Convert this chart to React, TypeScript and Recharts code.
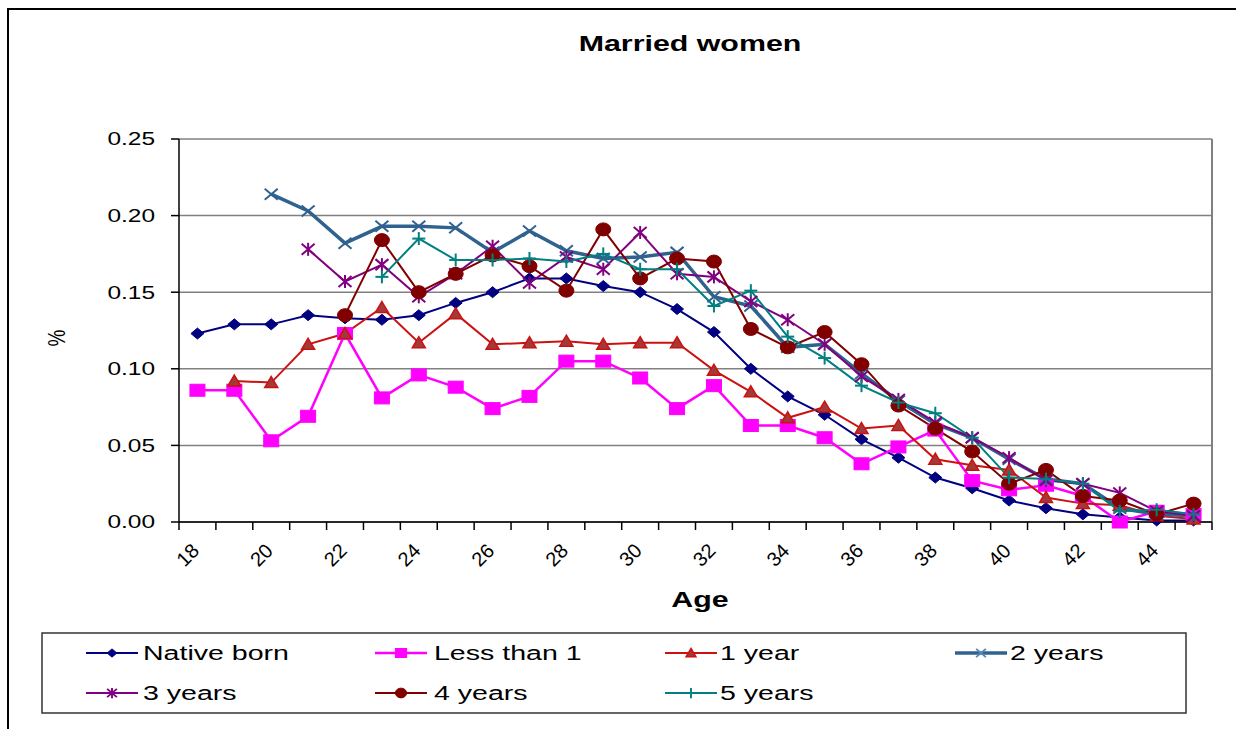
import React from "react";
import { LineChart, Line, XAxis, YAxis, CartesianGrid, ReferenceLine } from "recharts";

const ages = [18, 19, 20, 21, 22, 23, 24, 25, 26, 27, 28, 29, 30, 31, 32, 33, 34, 35, 36, 37, 38, 39, 40, 41, 42, 43, 44, 45];

const nativeBorn = [0.123, 0.129, 0.129, 0.135, 0.133, 0.132, 0.135, 0.143, 0.150, 0.159, 0.159, 0.154, 0.150, 0.139, 0.124, 0.100, 0.082, 0.070, 0.054, 0.042, 0.029, 0.022, 0.014, 0.009, 0.005, 0.003, 0.001, 0.001];
const lessThan1 = [0.086, 0.086, 0.053, 0.069, 0.123, 0.081, 0.096, 0.088, 0.074, 0.082, 0.105, 0.105, 0.094, 0.074, 0.089, 0.063, 0.063, 0.055, 0.038, 0.049, 0.060, 0.027, 0.021, 0.024, 0.017, 0.000, 0.007, 0.005];
const oneYear = [null, 0.092, 0.091, 0.116, 0.123, 0.140, 0.117, 0.136, 0.116, 0.117, 0.118, 0.116, 0.117, 0.117, 0.099, 0.085, 0.068, 0.075, 0.061, 0.063, 0.041, 0.037, 0.034, 0.016, 0.012, 0.011, 0.004, 0.002];
const twoYears = [null, null, 0.214, 0.203, 0.182, 0.193, 0.193, 0.192, 0.176, 0.190, 0.177, 0.172, 0.173, 0.176, 0.147, 0.141, 0.114, 0.116, 0.097, 0.079, 0.064, 0.055, 0.041, 0.028, 0.025, 0.009, 0.005, 0.004];
const threeYears = [null, null, null, 0.178, 0.157, 0.168, 0.147, 0.162, 0.180, 0.156, 0.173, 0.165, 0.189, 0.162, 0.160, 0.144, 0.132, 0.116, 0.095, 0.080, 0.065, 0.055, 0.042, 0.027, 0.025, 0.019, 0.007, 0.004];
const fourYears = [null, null, null, null, 0.135, 0.184, 0.150, 0.162, 0.174, 0.167, 0.151, 0.191, 0.159, 0.172, 0.170, 0.126, 0.114, 0.124, 0.103, 0.076, 0.061, 0.046, 0.025, 0.034, 0.017, 0.014, 0.005, 0.012];
const fiveYears = [null, null, null, null, null, 0.160, 0.185, 0.171, 0.171, 0.172, 0.170, 0.175, 0.165, 0.165, 0.141, 0.151, 0.121, 0.107, 0.089, 0.078, 0.071, 0.055, 0.029, 0.028, 0.025, 0.007, 0.008, 0.005];

const yTicks = [0, 0.05, 0.1, 0.15, 0.2, 0.25];
const xLabelAges = [18, 20, 22, 24, 26, 28, 30, 32, 34, 36, 38, 40, 42, 44];
const seriesNames = ["Native born", "Less than 1", "1 year", "2 years", "3 years", "4 years", "5 years"];

const data = ages.map((age, i) => ({
  age,
  nativeBorn: nativeBorn[i],
  lessThan1: lessThan1[i],
  oneYear: oneYear[i],
  twoYears: twoYears[i],
  threeYears: threeYears[i],
  fourYears: fourYears[i],
  fiveYears: fiveYears[i],
}));

// x ticks: boundaries (x.5) for tick marks, integers for labels
const xTicks: number[] = [];
for (let i = 0; i < ages.length; i++) {
  xTicks.push(ages[i] - 0.5);
  xTicks.push(ages[i]);
}
xTicks.push(ages[ages.length - 1] + 0.5);

const FONT = '"Liberation Sans", Arial, sans-serif';
const SX = 1.36;

type Shape = "diamond" | "square" | "triangle" | "x" | "star" | "circle" | "plus";

function Marker({ shape, cx, cy, s, color, fill }: { shape: Shape; cx: number; cy: number; s: number; color: string; fill?: string }) {
  const rx = 6.5 * s;
  const ry = 5.5 * s;
  switch (shape) {
    case "diamond":
      return <path d={`M${cx},${cy - ry}L${cx + rx},${cy}L${cx},${cy + ry}L${cx - rx},${cy}Z`} fill={color} stroke={color} strokeWidth={1} />;
    case "square":
      return <rect x={cx - 7.5 * s} y={cy - 6 * s} width={15 * s} height={12 * s} fill={color} stroke={color} strokeWidth={1} />;
    case "triangle":
      return <path d={`M${cx},${cy - 6 * s}L${cx + 6.5 * s},${cy + 5 * s}L${cx - 6.5 * s},${cy + 5 * s}Z`} fill={fill || color} stroke={color} strokeWidth={1.5} />;
    case "x":
      return (
        <g stroke={color} strokeWidth={2 * Math.min(1, s + 0.2)}>
          <line x1={cx - rx} y1={cy - ry} x2={cx + rx} y2={cy + ry} />
          <line x1={cx - rx} y1={cy + ry} x2={cx + rx} y2={cy - ry} />
        </g>
      );
    case "star":
      return (
        <g stroke={color} strokeWidth={2 * Math.min(1, s + 0.2)}>
          <line x1={cx - rx} y1={cy - ry} x2={cx + rx} y2={cy + ry} />
          <line x1={cx - rx} y1={cy + ry} x2={cx + rx} y2={cy - ry} />
          <line x1={cx} y1={cy - ry - 1} x2={cx} y2={cy + ry + 1} />
        </g>
      );
    case "circle":
      return <ellipse cx={cx} cy={cy} rx={7.5 * s} ry={6.5 * s} fill={color} stroke={color} strokeWidth={1} />;
    case "plus":
      return (
        <g stroke={color} strokeWidth={2 * Math.min(1, s + 0.2)}>
          <line x1={cx - rx} y1={cy} x2={cx + rx} y2={cy} />
          <line x1={cx} y1={cy - ry - 1} x2={cx} y2={cy + ry + 1} />
        </g>
      );
  }
  return null;
}

const series: { key: string; name: string; color: string; width: number; shape: Shape; fill?: string }[] = [
  { key: "nativeBorn", name: seriesNames[0], color: "#000080", width: 2, shape: "diamond" },
  { key: "lessThan1", name: seriesNames[1], color: "#FF00FF", width: 2.5, shape: "square" },
  { key: "oneYear", name: seriesNames[2], color: "#CC1111", width: 2, shape: "triangle", fill: "#A33A3A" },
  { key: "twoYears", name: seriesNames[3], color: "#30628F", width: 3.5, shape: "x" },
  { key: "threeYears", name: seriesNames[4], color: "#800080", width: 2, shape: "star" },
  { key: "fourYears", name: seriesNames[5], color: "#800000", width: 2, shape: "circle" },
  { key: "fiveYears", name: seriesNames[6], color: "#008080", width: 2, shape: "plus" },
];

const makeDot = (shape: Shape, color: string, fill?: string) => (p: any) => {
  const k = `${shape}-${p.index}`;
  if (p.cx == null || p.cy == null || p.value == null || (Array.isArray(p.value) && p.value[1] == null)) return <g key={k} />;
  return (
    <g key={k}>
      <Marker shape={shape} cx={p.cx} cy={p.cy} s={1} color={color} fill={fill} />
    </g>
  );
};

const XTick = (props: any) => {
  const { x, y, payload } = props;
  const v = payload.value as number;
  if (Math.abs(v - Math.round(v)) > 0.01) {
    return <line x1={x} y1={y} x2={x} y2={y + 8} stroke="#000" strokeWidth={1.5} />;
  }
  if (xLabelAges.indexOf(v) < 0) return <g />;
  const ax = x + 3;
  const ay = y + 30;
  return (
    <text
      x={ax}
      y={ay}
      transform={`rotate(-45, ${ax}, ${ay})`}
      textAnchor="end"
      fontSize={20}
      fontFamily={FONT}
      fill="#000"
    >
      {String(v)}
    </text>
  );
};

const YTick = (props: any) => {
  const { x, y, payload } = props;
  const v = payload.value as number;
  return (
    <text
      transform={`translate(${x - 14}, ${y}) scale(${SX}, 1)`}
      textAnchor="end"
      dy="0.36em"
      fontSize={18}
      fontFamily={FONT}
      fill="#000"
    >
      {v.toFixed(2)}
    </text>
  );
};

const legendCols = [
  { lx: 86, tx: 143 },
  { lx: 375, tx: 434 },
  { lx: 665, tx: 720 },
  { lx: 955, tx: 1010 },
];
const legendRows = [653, 693];

export default function App() {
  return (
    <div
      style={{
        position: "fixed",
        left: 0,
        top: 0,
        width: 1236,
        height: 729,
        overflow: "hidden",
        background: "#fff",
        fontFamily: FONT,
      }}
    >
      <div style={{ position: "absolute", left: 0, top: 0 }}>
        <LineChart
          width={1236}
          height={729}
          data={data}
          margin={{ top: 139, right: 24, left: 0, bottom: 147 }}
        >
          <CartesianGrid horizontal vertical={false} stroke="#808080" strokeWidth={1.5} />
          <XAxis
            dataKey="age"
            type="number"
            domain={[17.5, 45.5]}
            ticks={xTicks}
            interval={0}
            tickSize={0}
            tickMargin={0}
            height={60}
            axisLine={{ stroke: "#000", strokeWidth: 1.5 }}
            tickLine={false}
            tick={<XTick />}
            allowDecimals
          />
          <YAxis
            type="number"
            domain={[0, 0.25]}
            ticks={yTicks}
            interval={0}
            width={179}
            tickSize={8}
            axisLine={{ stroke: "#000", strokeWidth: 1.5 }}
            tickLine={{ stroke: "#000", strokeWidth: 1.5 }}
            tick={<YTick />}
          />
          <ReferenceLine x={45.5} stroke="#808080" strokeWidth={2} ifOverflow="visible" />
          {series.map((s) => (
            <Line
              key={s.key}
              dataKey={s.key}
              name={s.name}
              stroke={s.color}
              strokeWidth={s.width}
              isAnimationActive={false}
              connectNulls={false}
              dot={makeDot(s.shape, s.color, s.fill)}
              activeDot={false}
            />
          ))}
        </LineChart>
      </div>
      <svg
        width={1236}
        height={729}
        style={{ position: "absolute", left: 0, top: 0, pointerEvents: "none" }}
      >
        <line x1={7} y1={9} x2={1236} y2={9} stroke="#000" strokeWidth={2} />
        <line x1={8} y1={8} x2={8} y2={729} stroke="#000" strokeWidth={2} />
        <text
          transform={`translate(690, 51) scale(1.38, 1)`}
          textAnchor="middle"
          fontSize={22}
          fontWeight="bold"
          fontFamily={FONT}
          fill="#000"
        >
          Married women
        </text>
        <text
          transform={`translate(700, 607) scale(1.38, 1)`}
          textAnchor="middle"
          fontSize={22}
          fontWeight="bold"
          fontFamily={FONT}
          fill="#000"
        >
          Age
        </text>
        <text
          transform={`translate(65, 338) rotate(-90) scale(1, 1.3)`}
          textAnchor="middle"
          fontSize={19}
          fontFamily={FONT}
          fill="#000"
        >
          %
        </text>
        <rect x={42} y={633} width={1144} height={80} fill="none" stroke="#333" strokeWidth={1.5} />
        {series.map((s, i) => {
          const col = legendCols[i % 4];
          const ry = legendRows[Math.floor(i / 4)];
          return (
            <g key={s.key}>
              <line x1={col.lx} y1={ry} x2={col.lx + 52} y2={ry} stroke={s.color} strokeWidth={s.width} />
              <Marker shape={s.shape} cx={col.lx + 26} cy={ry} s={0.75} color={s.shape === "x" ? "#5A86B5" : s.color} fill={s.fill} />
              <text
                transform={`translate(${col.tx}, ${ry + 7}) scale(${SX}, 1)`}
                fontSize={21}
                fontFamily={FONT}
                fill="#000"
              >
                {s.name}
              </text>
            </g>
          );
        })}
      </svg>
    </div>
  );
}
